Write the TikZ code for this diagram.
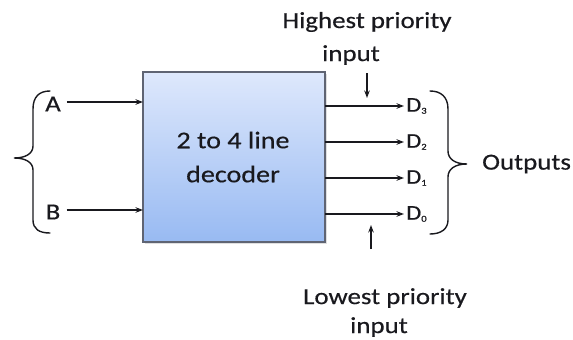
\documentclass[tikz,border=0pt]{standalone}
\usepackage{fontspec}
\setmainfont[FakeStretch=1.17,FakeBold=0.4]{Carlito}
\usetikzlibrary{arrows.meta,shadows}
\definecolor{ink}{RGB}{25,25,30}
\definecolor{boxtop}{RGB}{222,232,252}
\definecolor{boxbot}{RGB}{152,186,242}
\definecolor{boxline}{RGB}{95,100,115}
\newcommand\dsub[1]{\raisebox{-2pt}{\fontsize{9}{9}\selectfont #1}}
\tikzset{
  lbl/.style={inner sep=0pt, text=ink, font=\fontsize{23}{31}\selectfont},
  dlbl/.style={inner sep=0pt, anchor=west, text=ink, font=\fontsize{21}{24}\selectfont},
  wire/.style={draw=ink, line width=1.3pt, -{Stealth[length=7.5pt,width=5.5pt]}},
  brace/.style={draw=ink, line width=1.4pt, line cap=round},
  decbox/.style={draw=boxline, line width=1.1pt, top color=boxtop, bottom color=boxbot,
    drop shadow={opacity=0.25, shadow xshift=2pt, shadow yshift=-2pt}}
}
\begin{document}
\begin{tikzpicture}[x=1pt,y=-1pt]
\useasboundingbox (0,0) rectangle (573,340);
\fill[white] (0,0) rectangle (573,340);

% decoder block
\path[decbox] (143,72) rectangle (325,242);
\node[lbl, align=center, font=\fontsize{24}{34}\selectfont] (dec) at (233,157) {2 to 4 line\\decoder};
\coordinate (boxW) at (143,157);
\coordinate (boxE) at (325,157);

% inputs
\node[lbl] (A) at (53,104) {A};
\node[lbl] (B) at (53,212) {B};
\draw[wire] ([xshift=6pt,yshift=2pt]A.east) -- ([yshift=2pt]A.east -| boxW);
\draw[wire] ([xshift=6pt,yshift=2pt]B.east) -- ([yshift=2pt]B.east -| boxW);

% outputs
\node[dlbl] (D3) at (406,106) {D\dsub{3}};
\node[dlbl] (D2) at (406,142) {D\dsub{2}};
\node[dlbl] (D1) at (406,178) {D\dsub{1}};
\node[dlbl] (D0) at (406,214) {D\dsub{0}};
\foreach \d in {D3,D2,D1,D0}
  \draw[wire] (boxE |- \d.west) -- ([xshift=-2pt]\d.west);

% braces
\path[brace] (50,91) .. controls (39,91) and (33,97) .. (33,109) -- (33,146)
  .. controls (33,154) and (25,158) .. (14,158)
  .. controls (25,158) and (33,162) .. (33,170) -- (33,220)
  .. controls (33,229) and (39,233) .. (50,233);
\path[brace] (430,91) .. controls (441,91) and (448,97) .. (448,109) -- (448,151)
  .. controls (448,159) and (455,164) .. (467,164)
  .. controls (455,164) and (448,169) .. (448,177) -- (448,220)
  .. controls (448,229) and (441,234) .. (430,234);
\node[lbl, anchor=west] (out) at (482,164) {Outputs};

% priority notes
\node[lbl] (hi) at (367,22) {Highest priority};
\node[lbl] (hiin) at (351,55) {input};
\coordinate (hitop) at (367,73);
\coordinate (hitip) at (367,98);
\draw[wire] (hitop) -- (hitip);

\node[lbl] (lo) at (385,298) {Lowest priority};
\node[lbl] (loin) at (379,327) {input};
\coordinate (lobot) at (371,249);
\coordinate (lotip) at (371,225);
\draw[wire] (lobot) -- (lotip);
\end{tikzpicture}
\end{document}
